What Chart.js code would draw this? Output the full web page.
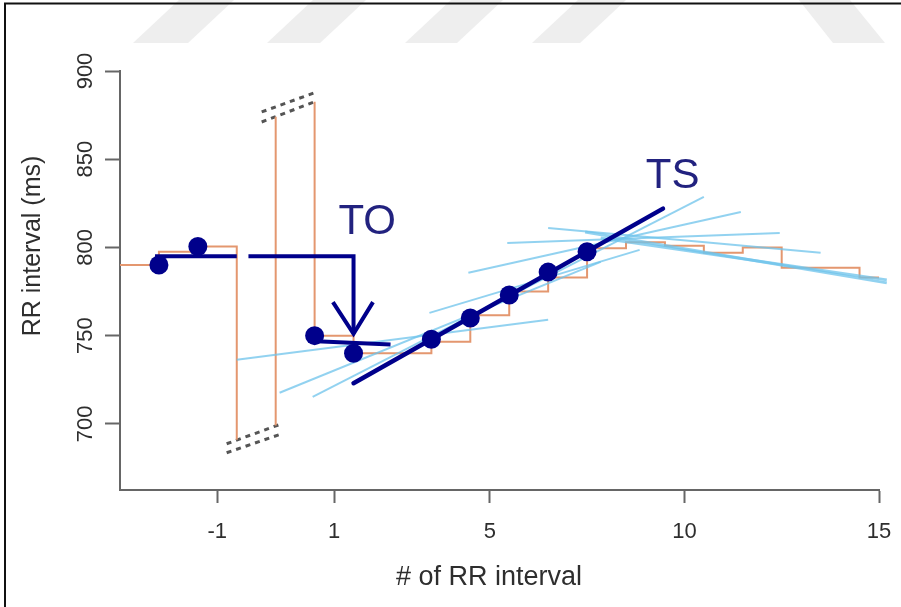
<!DOCTYPE html>
<html>
<head>
<meta charset="utf-8">
<script src="https://cdn.jsdelivr.net/npm/chart.js@4.4.1/dist/chart.umd.min.js"></script>
<style>
  html, body { margin: 0; padding: 0; background: #fff; }
  #wrap { position: relative; width: 901px; height: 607px; }
</style>
</head>
<body>
<div id="wrap"><canvas id="rrChart"></canvas></div>
<script>
// x = beat position; the ticks are relabelled (PVC + pause squeezed between -1 and 1)
const tickPos = [-2, 1, 5, 10, 15];
const tickLabels = ['-1', '1', '5', '10', '15'];
const yTicks = [700, 750, 800, 850, 900];

// RR tachogram (orange steps), value held from each start to the next
const preStart = [-4.5, -3.5, -2.5, -1.5];
const preRR = [790, 797.5, 800.5, 691];
const pauseX = [-0.5, -0.5];
const pauseRR = [699, 874];
const postStart = [0.5, 0.5, 1.5, 2.5, 3.5, 4.5, 5.5, 6.5, 7.5, 8.5, 9.5, 10.5, 11.5, 12.5, 13.5, 14.5, 15];
const postRR = [882.5, 750, 740, 740, 746.5, 761.5, 775, 783, 799.5, 803, 801, 797, 800, 788.5, 788.5, 783, 783];

// RR intervals (dots)
const dotX = [-3.5, -2.5, 0.5, 1.5, 3.5, 4.5, 5.5, 6.5, 7.5];
const dotRR = [790, 800.5, 750, 740, 748, 760, 773, 786, 797.5];

// turbulence onset: mean before / after the PVC
const toPreX = [-3.6, -1.5];
const toPreRR = [795, 795];
const toArrowX = [-1.2, 1.5, 1.5];
const toArrowRR = [795, 795, 751];
const arrowHeadX = [0.97, 1.5, 2.0];
const arrowHeadRR = [769, 751, 769];
const toPostX = [0.4, 2.45];
const toPostRR = [747, 745];

// turbulence slope (steepest regression) and the other 5-beat regressions
const tsX = [1.5, 9.45];
const tsRR = [723, 822];
const slopeX0 = [-1.5, -0.4, 0.45, 3.45, 4.45, 5.45, 6.5, 7.45, 7.85];
const slopeRR0 = [736.3, 717.6, 715.3, 762.9, 785.6, 802.5, 811, 808.8, 805.4];
const slopeX1 = [6.5, 7.85, 10.5, 8.85, 11.45, 12.45, 13.5, 15.2, 15.2];
const slopeRR1 = [759, 791.8, 828.6, 798.6, 820.1, 808.2, 797, 779.9, 781.6];

// axis break marks
const breakLowX = [-1.76, -0.35];
const breakLowA = [688.7, 700];
const breakLowB = [683.6, 694.3];
const breakTopX = [-0.86, 0.55];
const breakTopA = [876.8, 888.1];
const breakTopB = [871.1, 883];

// annotations
const noteText = ['TO', 'TS'];
const noteX = [1.85, 9.7];
const noteRR = [814, 840];

const FONT = "'Liberation Sans', Arial, sans-serif";
const ORANGE = '#e4976f';
const NAVY = '#00008b';
const SKY = 'rgba(110, 195, 235, 0.75)';

function pts(xs, ys) {
  return xs.map((x, i) => ({ x: x, y: ys[i] }));
}

function lineSet(xs, ys, color, width, order, extra) {
  return Object.assign({
    data: pts(xs, ys),
    showLine: true,
    borderColor: color,
    borderWidth: width,
    pointRadius: 0,
    fill: false,
    order: order
  }, extra || {});
}

const datasets = [];
datasets.push({
  data: pts(dotX, dotRR),
  showLine: false,
  pointRadius: 9.5,
  pointBackgroundColor: NAVY,
  pointBorderWidth: 0,
  order: 0
});
datasets.push(lineSet(tsX, tsRR, NAVY, 4.5, 1, { borderCapStyle: 'round' }));
datasets.push(lineSet(toPreX, toPreRR, NAVY, 4, 1));
datasets.push(lineSet(toArrowX, toArrowRR, NAVY, 4, 1));
datasets.push(lineSet(arrowHeadX, arrowHeadRR, NAVY, 4, 1));
datasets.push(lineSet(toPostX, toPostRR, NAVY, 4, 1));
slopeX0.forEach((x, i) => {
  datasets.push(lineSet([x, slopeX1[i]], [slopeRR0[i], slopeRR1[i]], SKY, i >= 7 ? 3 : 2, 2, { clip: false }));
});
datasets.push(lineSet(preStart, preRR, ORANGE, 2, 3, { stepped: true }));
datasets.push(lineSet(pauseX, pauseRR, ORANGE, 2, 3));
datasets.push(lineSet(postStart, postRR, ORANGE, 2, 3, { stepped: true }));
[[breakLowX, breakLowA], [breakLowX, breakLowB], [breakTopX, breakTopA], [breakTopX, breakTopB]].forEach(b => {
  datasets.push(lineSet(b[0], b[1], '#555', 3, 3, { borderDash: [5, 5] }));
});

const stripes = [
  [[133, 43], [188, 43], [234, 0], [179, 0]],
  [[267, 43], [320, 43], [366, 0], [313, 0]],
  [[405, 43], [457, 43], [503, 0], [451, 0]],
  [[532, 43], [580, 43], [626, 0], [578, 0]],
  [[833, 43], [885, 43], [850, 0], [799, 0]]
];

const decor = {
  id: 'decor',
  beforeDraw(chart) {
    const c = chart.ctx;
    c.save();
    c.fillStyle = '#fff';
    c.fillRect(0, 0, chart.width, chart.height);
    c.fillStyle = '#eeeeee';
    stripes.forEach(p => {
      c.beginPath();
      p.forEach((q, i) => i ? c.lineTo(q[0], q[1]) : c.moveTo(q[0], q[1]));
      c.closePath();
      c.fill();
    });
    c.strokeStyle = '#111';
    c.lineWidth = 2;
    c.beginPath();
    c.moveTo(5, 607);
    c.lineTo(5, 3.5);
    c.lineTo(901, 3.5);
    c.stroke();
    c.restore();
  },
  afterDraw(chart) {
    const c = chart.ctx;
    const sx = chart.scales.x, sy = chart.scales.y;
    c.save();
    c.fillStyle = '#2e2e2e';
    c.textAlign = 'center';
    c.textBaseline = 'middle';
    c.font = '27px ' + FONT;
    c.fillText('# of RR interval', 489, 578);
    c.font = '25px ' + FONT;
    c.translate(33, 246);
    c.rotate(-Math.PI / 2);
    c.fillText('RR interval (ms)', 0, 0);
    c.restore();

    c.save();
    c.fillStyle = '#22227f';
    c.font = '42px ' + FONT;
    c.textAlign = 'center';
    c.textBaseline = 'middle';
    noteText.forEach((t, i) => {
      c.fillText(t, sx.getPixelForValue(noteX[i]), sy.getPixelForValue(noteRR[i]));
    });
    c.restore();
  }
};

new Chart(document.getElementById('rrChart'), {
  type: 'scatter',
  data: { datasets: datasets },
  options: {
    responsive: true,
    maintainAspectRatio: false,
    animation: false,
    layout: { padding: { top: 71, right: 22, left: 0, bottom: 0 } },
    plugins: { legend: { display: false }, tooltip: { enabled: false } },
    scales: {
      x: {
        type: 'linear',
        min: -4.5,
        max: 15,
        afterBuildTicks: s => { s.ticks = tickPos.map(v => ({ value: v })); },
        afterFit: s => { s.height = 117; s.paddingLeft = 0; s.paddingRight = 0; },
        ticks: {
          callback: (v, i) => tickLabels[i],
          font: { family: FONT, size: 22 },
          color: '#2e2e2e',
          padding: 16,
          minRotation: 0,
          maxRotation: 0,
          autoSkip: false
        },
        grid: { drawOnChartArea: false, drawTicks: true, tickLength: 13, tickWidth: 2, tickColor: '#666' },
        border: { color: '#666', width: 2 }
      },
      y: {
        min: 662.5,
        max: 900,
        afterBuildTicks: s => { s.ticks = yTicks.map(v => ({ value: v })); },
        afterFit: s => { s.width = 120; },
        ticks: {
          font: { family: FONT, size: 22 },
          color: '#2e2e2e',
          padding: 1,
          minRotation: 90,
          maxRotation: 90,
          crossAlign: 'center'
        },
        grid: { drawOnChartArea: false, drawTicks: true, tickLength: 15, tickWidth: 2, tickColor: '#666' },
        border: { color: '#666', width: 2 }
      }
    }
  },
  plugins: [decor]
});
</script>
</body>
</html>
